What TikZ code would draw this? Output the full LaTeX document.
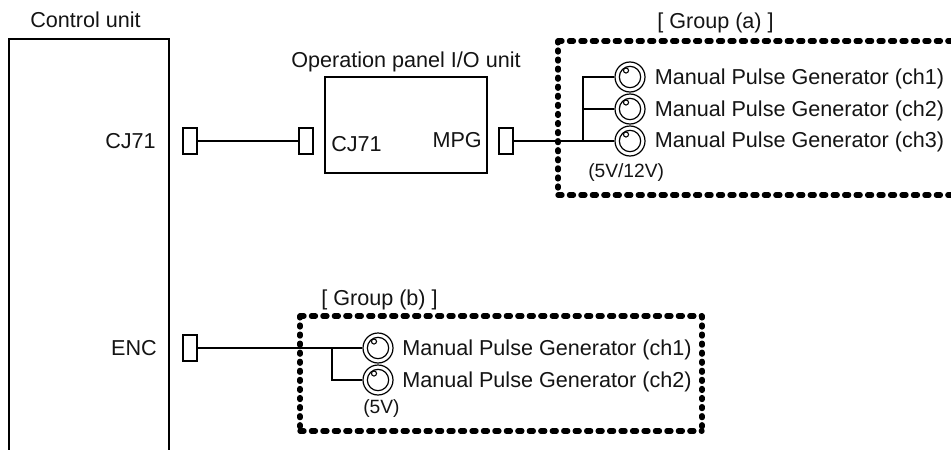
\documentclass[tikz,border=0pt]{standalone}
\usepackage{fontspec}
\setmainfont{Liberation Sans}
\tikzset{
  x=0.75pt,y=-0.75pt,
  lbl/.style={inner sep=0pt,font=\fontsize{16.2pt}{18pt}\selectfont,text=black!92},
  small/.style={inner sep=0pt,font=\fontsize{14.4pt}{16pt}\selectfont,text=black!92},
  wire/.style={line width=1.5pt},
  box/.style={draw,line width=1.5pt,inner sep=0pt,minimum width=0pt},
  conn/.style={draw,line width=1.4pt,fill=white,inner sep=0pt,minimum width=10.5pt,minimum height=19pt},
  grouph/.style={line width=4pt,line cap=round,dash pattern=on 3pt off 5.6pt},
  groupv/.style={line width=4pt,line cap=round,dash pattern=on 1.4pt off 5.4pt},
  knobouter/.style={draw,line width=0.9pt,circle,fill=white,minimum size=22.5pt,inner sep=0pt},
}
\newcommand{\knob}[3]{%
  \node[knobouter] (#3) at (#1,#2) {};
  \draw[line width=0.9pt] (#1,#2) circle[radius=8pt];
  \fill[white,draw=black,line width=0.8pt] (#1-4,#2-6.5) circle[radius=1.9pt];
}
\begin{document}
\begin{tikzpicture}
\useasboundingbox (0,0) rectangle (951,450);
% control unit
\coordinate (cuA) at (9,450); \coordinate (cuB) at (9,39); \coordinate (cuC) at (169,39); \coordinate (cuD) at (169,450);
\draw[line width=1.5pt] (cuA) -- (cuB) -- (cuC) -- (cuD);
\node[lbl,anchor=base west] (cutitle) at (30,27) {Control unit};
\node[lbl,anchor=base east] (cj71a) at (156,148) {CJ71};
\node[lbl,anchor=base east] (enc) at (157,355) {ENC};
% panel
\node[box,minimum width=121.5pt,minimum height=72pt] (panel) at (406,125) {};
\node[lbl,anchor=base west] (paneltitle) at (291,67) {Operation panel I/O unit};
\node[lbl,anchor=base west] (cj71b) at (331,151) {CJ71};
\node[lbl,anchor=base east] (mpg) at (482,147) {MPG};
% groups
\draw[grouph] (558,41) -- (951,41);
\draw[grouph] (558,195) -- (951,195);
\draw[groupv] (558,41) -- (558,195);
\node[lbl,anchor=base west] (ga) at (657,28) {[ Group (a) ]};
\draw[grouph] (300,316) -- (702,316);
\draw[grouph] (300,431) -- (702,431);
\draw[groupv] (300,316) -- (300,431);
\draw[groupv] (702,316) -- (702,431);
\node[lbl,anchor=base west] (gb) at (321,305) {[ Group (b) ]};
% connectors
\node[conn] (c1) at (190,141) {};
\node[conn] (c2) at (306,141) {};
\node[conn] (c3) at (506,141) {};
\node[conn] (c4) at (190,348) {};
\draw[wire] (c1.east) -- (c2.west);
% knobs
\knob{630}{77}{a1}\knob{630}{109}{a2}\knob{630}{141}{a3}
\knob{378}{348}{b1}\knob{378}{380}{b2}
\coordinate (ja) at (583,77); \coordinate (jb) at (583,109); \coordinate (jc) at (583,141);
\draw[wire] (c3.east) -- (a3.west);
\draw[wire] (a1.west) -- (ja) -- (jc);
\draw[wire] (jb) -- (a2.west);
\coordinate (jd) at (332,348); \coordinate (je) at (332,380);
\draw[wire] (c4.east) -- (b1.west);
\draw[wire] (jd) -- (je) -- (b2.west);
% labels
\node[lbl,anchor=base west] (a1t) at (654.5,84.5) {Manual Pulse Generator (ch1)};
\node[lbl,anchor=base west] (a2t) at (654.5,116) {Manual Pulse Generator (ch2)};
\node[lbl,anchor=base west] (a3t) at (654.5,147) {Manual Pulse Generator (ch3)};
\node[small,anchor=base west] (av) at (588,177) {(5V/12V)};
\node[lbl,anchor=base west] (b1t) at (402,355) {Manual Pulse Generator (ch1)};
\node[lbl,anchor=base west] (b2t) at (402,387) {Manual Pulse Generator (ch2)};
\node[small,anchor=base west] (bv) at (363,413) {(5V)};
\end{tikzpicture}
\end{document}
